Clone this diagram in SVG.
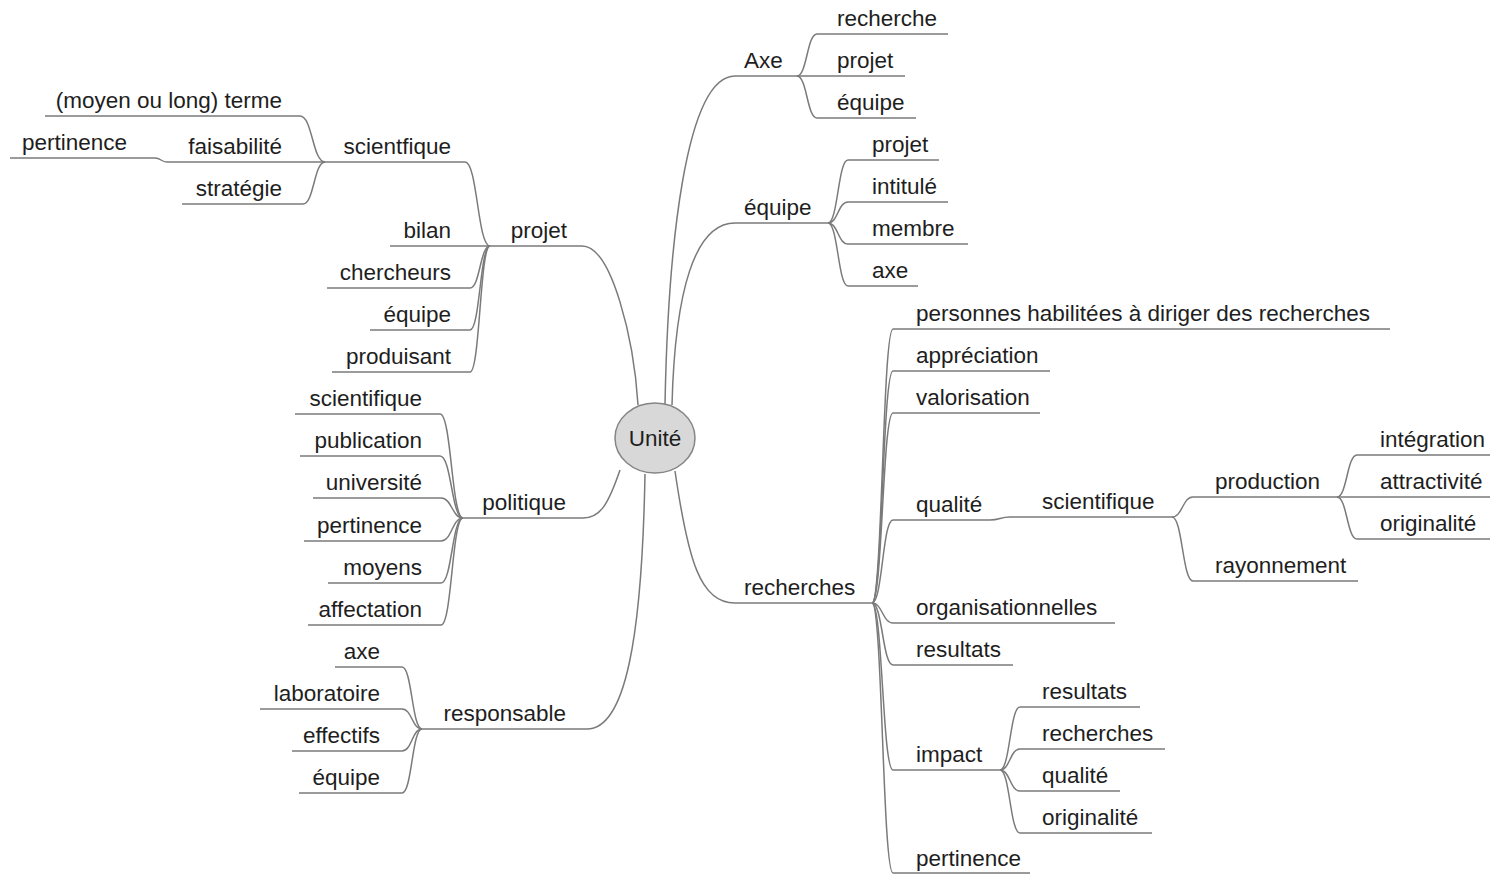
<svg xmlns="http://www.w3.org/2000/svg" width="1493" height="875" viewBox="0 0 1493 875">
<style>
text{font-family:"Liberation Sans",Arial,sans-serif;font-size:22.5px;fill:#1e1e1e}
.e{text-anchor:end}
.u{stroke:#7a7a7a;stroke-width:1.5;fill:none}
#connectors path{stroke:#7a7a7a;stroke-width:1.5;fill:none}
</style>
<rect width="1493" height="875" fill="#fff"/>
<g id="connectors">
<path d="M665 404 C668 250 685 76 735 76"/>
<path d="M672 405 C675 290 695 223 735 223"/>
<path d="M675 471 C688 560 700 603 735 603"/>
<path d="M638 405 C634 340 612 246 582 246"/>
<path d="M620 470 C608 505 600 518 583 518"/>
<path d="M645 474 C642 640 625 729 587 729"/>
<path d="M797 76 C807 76 807 34 817 34"/>
<path d="M797 76 L817 76"/>
<path d="M797 76 C807 76 807 118 817 118"/>
<path d="M828 223 C838 223 838 160 848 160"/>
<path d="M828 223 C838 223 838 202 848 202"/>
<path d="M828 223 C838 223 838 244 848 244"/>
<path d="M828 223 C838 223 838 286 848 286"/>
<path d="M872 603 C882.5 603 882.5 329 893 329"/>
<path d="M872 603 C882.5 603 882.5 371 893 371"/>
<path d="M872 603 C882.5 603 882.5 413 893 413"/>
<path d="M872 603 C882.5 603 882.5 520 893 520"/>
<path d="M872 603 C882.5 603 882.5 623 893 623"/>
<path d="M872 603 C882.5 603 882.5 665 893 665"/>
<path d="M872 603 C882.5 603 882.5 770 893 770"/>
<path d="M872 603 C882.5 603 882.5 873 893 873"/>
<path d="M990 520 C1000 520 1000 517 1010 517"/>
<path d="M1172 517 C1182.5 517 1182.5 497 1193 497"/>
<path d="M1172 517 C1182.5 517 1182.5 581 1193 581"/>
<path d="M1337 497 C1347 497 1347 455 1357 455"/>
<path d="M1337 497 L1357 497"/>
<path d="M1337 497 C1347 497 1347 539 1357 539"/>
<path d="M1000 770 C1010 770 1010 707 1020 707"/>
<path d="M1000 770 C1010 770 1010 749 1020 749"/>
<path d="M1000 770 C1010 770 1010 791 1020 791"/>
<path d="M1000 770 C1010 770 1010 833 1020 833"/>
<path d="M490 246 C477.5 246 477.5 162 465 162"/>
<path d="M490 246 L470 246"/>
<path d="M490 246 C480 246 480 288 470 288"/>
<path d="M490 246 C480 246 480 330 470 330"/>
<path d="M490 246 C480 246 480 372 470 372"/>
<path d="M325 162 C312.5 162 312.5 116 300 116"/>
<path d="M325 162 L305 162"/>
<path d="M325 162 C314 162 314 204 303 204"/>
<path d="M167 162 C161 162 161 158 155 158"/>
<path d="M463 518 C451.5 518 451.5 414 440 414"/>
<path d="M463 518 C451.5 518 451.5 456 440 456"/>
<path d="M463 518 C452 518 452 498 441 498"/>
<path d="M463 518 C452 518 452 541 441 541"/>
<path d="M463 518 C452 518 452 583 441 583"/>
<path d="M463 518 C452 518 452 625 441 625"/>
<path d="M422 729 C412 729 412 667 402 667"/>
<path d="M422 729 C412 729 412 709 402 709"/>
<path d="M422 729 C412 729 412 751 402 751"/>
<path d="M422 729 C412 729 412 793 402 793"/>
</g>
<g id="n-unite"><ellipse cx="655" cy="438" rx="40" ry="35" fill="#d8d8d8" stroke="#858585" stroke-width="1.5"/><text x="655" y="446" text-anchor="middle">Unité</text></g>
<g id="n-axe"><line class="u" x1="735" y1="76" x2="797" y2="76"/><text x="744" y="68">Axe</text></g>
<g id="n-axe-recherche"><line class="u" x1="817" y1="34" x2="948" y2="34"/><text x="837" y="26">recherche</text></g>
<g id="n-axe-projet"><line class="u" x1="817" y1="76" x2="905" y2="76"/><text x="837" y="68">projet</text></g>
<g id="n-axe-equipe"><line class="u" x1="817" y1="118" x2="916" y2="118"/><text x="837" y="110">équipe</text></g>
<g id="n-equipe"><line class="u" x1="735" y1="223" x2="828" y2="223"/><text x="744" y="215">équipe</text></g>
<g id="n-equipe-projet"><line class="u" x1="848" y1="160" x2="939" y2="160"/><text x="872" y="152">projet</text></g>
<g id="n-equipe-intitule"><line class="u" x1="848" y1="202" x2="948" y2="202"/><text x="872" y="194">intitulé</text></g>
<g id="n-equipe-membre"><line class="u" x1="848" y1="244" x2="968" y2="244"/><text x="872" y="236">membre</text></g>
<g id="n-equipe-axe"><line class="u" x1="848" y1="286" x2="918" y2="286"/><text x="872" y="278">axe</text></g>
<g id="n-recherches"><line class="u" x1="735" y1="603" x2="872" y2="603"/><text x="744" y="595">recherches</text></g>
<g id="n-personnes"><line class="u" x1="893" y1="329" x2="1390" y2="329"/><text x="916" y="321">personnes habilitées à diriger des recherches</text></g>
<g id="n-appreciation"><line class="u" x1="893" y1="371" x2="1050" y2="371"/><text x="916" y="363">appréciation</text></g>
<g id="n-valorisation"><line class="u" x1="893" y1="413" x2="1040" y2="413"/><text x="916" y="405">valorisation</text></g>
<g id="n-qualite"><line class="u" x1="893" y1="520" x2="990" y2="520"/><text x="916" y="512">qualité</text></g>
<g id="n-q-scientifique"><line class="u" x1="1010" y1="517" x2="1172" y2="517"/><text x="1042" y="509">scientifique</text></g>
<g id="n-production"><line class="u" x1="1193" y1="497" x2="1337" y2="497"/><text x="1215" y="489">production</text></g>
<g id="n-integration"><line class="u" x1="1357" y1="455" x2="1490" y2="455"/><text x="1380" y="447">intégration</text></g>
<g id="n-attractivite"><line class="u" x1="1357" y1="497" x2="1490" y2="497"/><text x="1380" y="489">attractivité</text></g>
<g id="n-p-originalite"><line class="u" x1="1357" y1="539" x2="1490" y2="539"/><text x="1380" y="531">originalité</text></g>
<g id="n-rayonnement"><line class="u" x1="1193" y1="581" x2="1358" y2="581"/><text x="1215" y="573">rayonnement</text></g>
<g id="n-organisationnelles"><line class="u" x1="893" y1="623" x2="1115" y2="623"/><text x="916" y="615">organisationnelles</text></g>
<g id="n-resultats"><line class="u" x1="893" y1="665" x2="1013" y2="665"/><text x="916" y="657">resultats</text></g>
<g id="n-impact"><line class="u" x1="893" y1="770" x2="1000" y2="770"/><text x="916" y="762">impact</text></g>
<g id="n-i-resultats"><line class="u" x1="1020" y1="707" x2="1140" y2="707"/><text x="1042" y="699">resultats</text></g>
<g id="n-i-recherches"><line class="u" x1="1020" y1="749" x2="1165" y2="749"/><text x="1042" y="741">recherches</text></g>
<g id="n-i-qualite"><line class="u" x1="1020" y1="791" x2="1120" y2="791"/><text x="1042" y="783">qualité</text></g>
<g id="n-i-originalite"><line class="u" x1="1020" y1="833" x2="1152" y2="833"/><text x="1042" y="825">originalité</text></g>
<g id="n-r-pertinence"><line class="u" x1="893" y1="873" x2="1030" y2="873"/><text x="916" y="866">pertinence</text></g>
<g id="n-projet"><line class="u" x1="490" y1="246" x2="582" y2="246"/><text class="e" x="567" y="238">projet</text></g>
<g id="n-scientfique"><line class="u" x1="325" y1="162" x2="465" y2="162"/><text class="e" x="451" y="154">scientfique</text></g>
<g id="n-terme"><line class="u" x1="45" y1="116" x2="300" y2="116"/><text class="e" x="282" y="108">(moyen ou long) terme</text></g>
<g id="n-faisabilite"><line class="u" x1="167" y1="162" x2="305" y2="162"/><text class="e" x="282" y="154">faisabilité</text></g>
<g id="n-f-pertinence"><line class="u" x1="10" y1="158" x2="155" y2="158"/><text class="e" x="127" y="150">pertinence</text></g>
<g id="n-strategie"><line class="u" x1="182" y1="204" x2="303" y2="204"/><text class="e" x="282" y="196">stratégie</text></g>
<g id="n-bilan"><line class="u" x1="390" y1="246" x2="470" y2="246"/><text class="e" x="451" y="238">bilan</text></g>
<g id="n-chercheurs"><line class="u" x1="327" y1="288" x2="470" y2="288"/><text class="e" x="451" y="280">chercheurs</text></g>
<g id="n-p-equipe"><line class="u" x1="370" y1="330" x2="470" y2="330"/><text class="e" x="451" y="322">équipe</text></g>
<g id="n-produisant"><line class="u" x1="332" y1="372" x2="470" y2="372"/><text class="e" x="451" y="364">produisant</text></g>
<g id="n-politique"><line class="u" x1="463" y1="518" x2="583" y2="518"/><text class="e" x="566" y="510">politique</text></g>
<g id="n-po-scientifique"><line class="u" x1="295" y1="414" x2="440" y2="414"/><text class="e" x="422" y="406">scientifique</text></g>
<g id="n-publication"><line class="u" x1="300" y1="456" x2="440" y2="456"/><text class="e" x="422" y="448">publication</text></g>
<g id="n-universite"><line class="u" x1="313" y1="498" x2="441" y2="498"/><text class="e" x="422" y="490">université</text></g>
<g id="n-po-pertinence"><line class="u" x1="304" y1="541" x2="441" y2="541"/><text class="e" x="422" y="533">pertinence</text></g>
<g id="n-moyens"><line class="u" x1="328" y1="583" x2="441" y2="583"/><text class="e" x="422" y="575">moyens</text></g>
<g id="n-affectation"><line class="u" x1="308" y1="625" x2="441" y2="625"/><text class="e" x="422" y="617">affectation</text></g>
<g id="n-responsable"><line class="u" x1="422" y1="729" x2="587" y2="729"/><text class="e" x="566" y="721">responsable</text></g>
<g id="n-re-axe"><line class="u" x1="335" y1="667" x2="402" y2="667"/><text class="e" x="380" y="659">axe</text></g>
<g id="n-laboratoire"><line class="u" x1="260" y1="709" x2="402" y2="709"/><text class="e" x="380" y="701">laboratoire</text></g>
<g id="n-effectifs"><line class="u" x1="292" y1="751" x2="402" y2="751"/><text class="e" x="380" y="743">effectifs</text></g>
<g id="n-re-equipe"><line class="u" x1="299" y1="793" x2="402" y2="793"/><text class="e" x="380" y="785">équipe</text></g>
</svg>
